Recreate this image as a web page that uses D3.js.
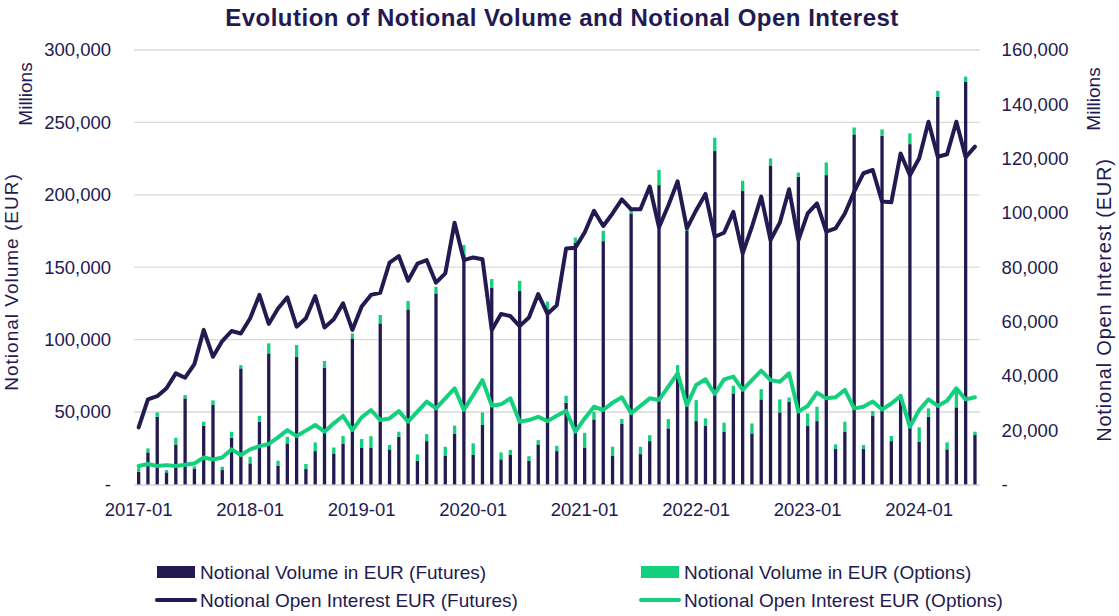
<!DOCTYPE html>
<html><head><meta charset="utf-8">
<script src="https://cdn.jsdelivr.net/npm/d3@7"></script>
<style>
body{margin:0;background:#fff;}
svg text{font-family:"Liberation Sans",Arial,sans-serif;}
</style></head>
<body><svg id="chart" width="1119" height="616"></svg>
<script>
const months = [
"2017-01","2017-02","2017-03","2017-04","2017-05","2017-06","2017-07","2017-08","2017-09","2017-10","2017-11","2017-12",
"2018-01","2018-02","2018-03","2018-04","2018-05","2018-06","2018-07","2018-08","2018-09","2018-10","2018-11","2018-12",
"2019-01","2019-02","2019-03","2019-04","2019-05","2019-06","2019-07","2019-08","2019-09","2019-10","2019-11","2019-12",
"2020-01","2020-02","2020-03","2020-04","2020-05","2020-06","2020-07","2020-08","2020-09","2020-10","2020-11","2020-12",
"2021-01","2021-02","2021-03","2021-04","2021-05","2021-06","2021-07","2021-08","2021-09","2021-10","2021-11","2021-12",
"2022-01","2022-02","2022-03","2022-04","2022-05","2022-06","2022-07","2022-08","2022-09","2022-10","2022-11","2022-12",
"2023-01","2023-02","2023-03","2023-04","2023-05","2023-06","2023-07","2023-08","2023-09","2023-10","2023-11","2023-12",
"2024-01","2024-02","2024-03","2024-04","2024-05","2024-06","2024-07"];

// Notional volume, futures (EUR millions)
const volFutures = [
8700,22100,46700,8300,27600,59400,11000,40500,54800,9900,32200,80100,
14500,43300,90500,12900,28300,88200,10600,23000,80600,21400,27900,100800,
25500,25500,111200,24200,32900,120900,16300,29900,131900,19600,34800,158400,
20300,41000,136000,17300,20300,133700,16300,27600,120900,23000,56400,167000,
25500,44900,168000,19600,41700,187100,20900,29900,206700,38700,77800,175000,
43700,40300,230200,36400,62800,202600,35200,58700,220300,49700,57000,212500,
40300,43700,213600,24400,36400,241700,24400,47200,240800,29900,60000,235000,
29500,46700,267700,24200,53200,277900,34100];

// Notional volume, options (EUR millions)
const volOptions = [
2800,2800,3000,1600,4600,2300,1500,2800,3200,2300,4100,2300,
4600,4100,6900,3500,4600,8100,3500,6000,4600,4100,5500,3500,
5800,7800,5800,3000,3500,5800,4400,4800,4600,6400,5800,6900,
8100,8700,5800,4800,3500,6900,3200,3000,5300,3700,4800,3500,
10100,5300,7100,6400,3500,2300,5100,4100,10400,6400,4600,3000,
14500,5300,9200,6200,5300,7100,6900,7100,4800,9000,3000,2800,
8700,9900,8700,3200,6900,4800,2800,3500,4400,3500,2500,7400,
9900,5800,4100,4800,12400,3700,2300];

// Notional open interest, futures (EUR millions)
const oiFutures = [
21000,31300,32500,35400,40900,39300,44300,56900,47000,52800,56500,55600,
61200,69800,59100,64800,68900,58100,61200,69400,57800,60800,66700,56900,
65500,69800,70600,81700,84100,75000,81300,82600,74300,77700,96400,82600,
83600,82900,56900,62800,62000,58300,61500,70100,62800,66000,86900,87200,
92800,100800,95200,99800,105000,101300,101300,109700,94700,102700,111600,94300,
101000,107000,91200,92700,100400,85100,94900,106000,90000,96400,108700,90000,
99800,103500,93100,94300,99800,107800,114600,115800,104200,103900,121900,113900,
120100,133600,120700,121600,133600,120500,124400];

// Notional open interest, options (EUR millions)
const oiOptions = [
6800,7500,6800,7100,6800,7200,7700,9900,9200,9900,12900,10800,
12900,14100,14900,17300,20000,17800,19800,21900,19400,22500,25200,20000,
24700,27400,23700,24300,27000,23100,26800,30500,28000,31700,35400,27400,
32900,38400,29000,29500,31700,23100,23700,24900,23300,25300,27100,19400,
24300,28600,27400,30100,32100,26200,28900,31700,31100,36000,40900,29200,
36600,38700,33300,38700,39700,34800,38400,41900,38400,37800,40900,26800,
28900,33800,31700,32100,34800,28000,28600,30500,27600,29800,32500,21200,
27400,31300,28900,30800,35400,31300,32100];

const xTickLabels = ["2017-01","2018-01","2019-01","2020-01","2021-01","2022-01","2023-01","2024-01"];
const leftTicks = [0,50000,100000,150000,200000,250000,300000];
const rightTicks = [0,20000,40000,60000,80000,100000,120000,140000,160000];

const title = "Evolution of Notional Volume and Notional Open Interest";
const legendLabels = ["Notional Volume in EUR (Futures)","Notional Volume in EUR (Options)",
                      "Notional Open Interest EUR (Futures)","Notional Open Interest EUR (Options)"];

const NAVY = "#221a50", GREEN = "#12d07c", TXT = "#221a50";
const svg = d3.select("#chart");
const L = 134, R = 979.6, T = 50, B = 484.4;

const x = d3.scaleBand().domain(months).range([L, R]).padding(0);
const yL = d3.scaleLinear().domain([0,300000]).range([B, T]);
const yR = d3.scaleLinear().domain([0,160000]).range([B, T]);
const fmt = v => v === 0 ? "-" : d3.format(",")(v);
const TICK_FS = 18.5;

// title
svg.append("text").attr("x",562).attr("y",26).attr("text-anchor","middle")
  .attr("font-size",24).attr("letter-spacing",0.5).attr("font-weight","bold").attr("fill",TXT).text(title);

// gridlines
svg.append("g").selectAll("line").data(leftTicks.filter(d=>d>0)).join("line")
  .attr("x1",L).attr("x2",R).attr("y1",d=>yL(d)).attr("y2",d=>yL(d))
  .attr("stroke","#d9d9d9").attr("stroke-width",1.3);

// left axis
const gL = svg.append("g").attr("transform",`translate(${L-20},0)`)
  .call(d3.axisLeft(yL).tickValues(leftTicks).tickFormat(fmt).tickSize(0));
gL.select(".domain").remove();
gL.selectAll("text").attr("font-size",TICK_FS).attr("fill",TXT).attr("font-family","Liberation Sans, Arial");

// right axis
const gR = svg.append("g").attr("transform",`translate(${R+22},0)`)
  .call(d3.axisRight(yR).tickValues(rightTicks).tickFormat(fmt).tickSize(0));
gR.select(".domain").remove();
gR.selectAll("text").attr("font-size",TICK_FS).attr("fill",TXT).attr("font-family","Liberation Sans, Arial").attr("x",0);

// x axis
const gX = svg.append("g").attr("transform",`translate(0,${B})`)
  .call(d3.axisBottom(x).tickValues(xTickLabels).tickSize(0));
gX.select(".domain").attr("stroke","#d0d0d8").attr("stroke-width",1.5);
gX.selectAll("text").attr("font-size",TICK_FS).attr("fill",TXT).attr("font-family","Liberation Sans, Arial").attr("dy","0.71em").attr("y",18);

// bars
const bw = 3.3;
const barData = months.map((m,i)=>({m, f:volFutures[i], o:volOptions[i]}));
svg.append("g").selectAll("rect").data(barData).join("rect")
  .attr("x",d=>x(d.m)+x.bandwidth()/2-bw/2).attr("width",bw)
  .attr("y",d=>yL(d.f)).attr("height",d=>yL(0)-yL(d.f)).attr("fill",NAVY);
svg.append("g").selectAll("rect").data(barData).join("rect")
  .attr("x",d=>x(d.m)+x.bandwidth()/2-bw/2).attr("width",bw)
  .attr("y",d=>yL(d.f+d.o)).attr("height",d=>yL(d.f)-yL(d.f+d.o)).attr("fill",GREEN);

// lines
const cx = m => x(m)+x.bandwidth()/2;
const lineF = d3.line().x((d,i)=>cx(months[i])).y(d=>yR(d));
svg.append("path").datum(oiFutures).attr("d",lineF).attr("fill","none")
  .attr("stroke",NAVY).attr("stroke-width",4).attr("stroke-linejoin","round").attr("stroke-linecap","round");
svg.append("path").datum(oiOptions).attr("d",lineF).attr("fill","none")
  .attr("stroke",GREEN).attr("stroke-width",4).attr("stroke-linejoin","round").attr("stroke-linecap","round");

// axis titles
svg.append("text").attr("transform","translate(18,282) rotate(-90)").attr("text-anchor","middle")
  .attr("font-size",19).attr("letter-spacing",1).attr("fill",TXT).text("Notional Volume (EUR)");
svg.append("text").attr("transform","translate(32,94) rotate(-90)").attr("text-anchor","middle")
  .attr("font-size",19).attr("fill",TXT).text("Millions");
svg.append("text").attr("transform","translate(1111,300) rotate(-90)").attr("text-anchor","middle")
  .attr("font-size",20).attr("letter-spacing",0.8).attr("fill",TXT).text("Notional Open Interest (EUR)");
svg.append("text").attr("transform","translate(1100,99) rotate(-90)").attr("text-anchor","middle")
  .attr("font-size",19).attr("fill",TXT).text("Millions");

// legend
const leg = [
 {t:legendLabels[0], c:NAVY, type:"bar", x:157, y:572},
 {t:legendLabels[1], c:GREEN, type:"bar", x:641, y:572},
 {t:legendLabels[2], c:NAVY, type:"line", x:157, y:600},
 {t:legendLabels[3], c:GREEN, type:"line", x:641, y:600}];
const lg = svg.append("g");
leg.forEach(d=>{
  if(d.type==="bar") lg.append("rect").attr("x",d.x).attr("y",d.y-6).attr("width",38).attr("height",12).attr("fill",d.c);
  else lg.append("line").attr("x1",d.x).attr("x2",d.x+38).attr("y1",d.y).attr("y2",d.y).attr("stroke",d.c).attr("stroke-width",4).attr("stroke-linecap","round");
  lg.append("text").attr("x",d.x+43).attr("y",d.y+6.5).attr("font-size",19).attr("fill",TXT).text(d.t);
});
</script></body></html>
